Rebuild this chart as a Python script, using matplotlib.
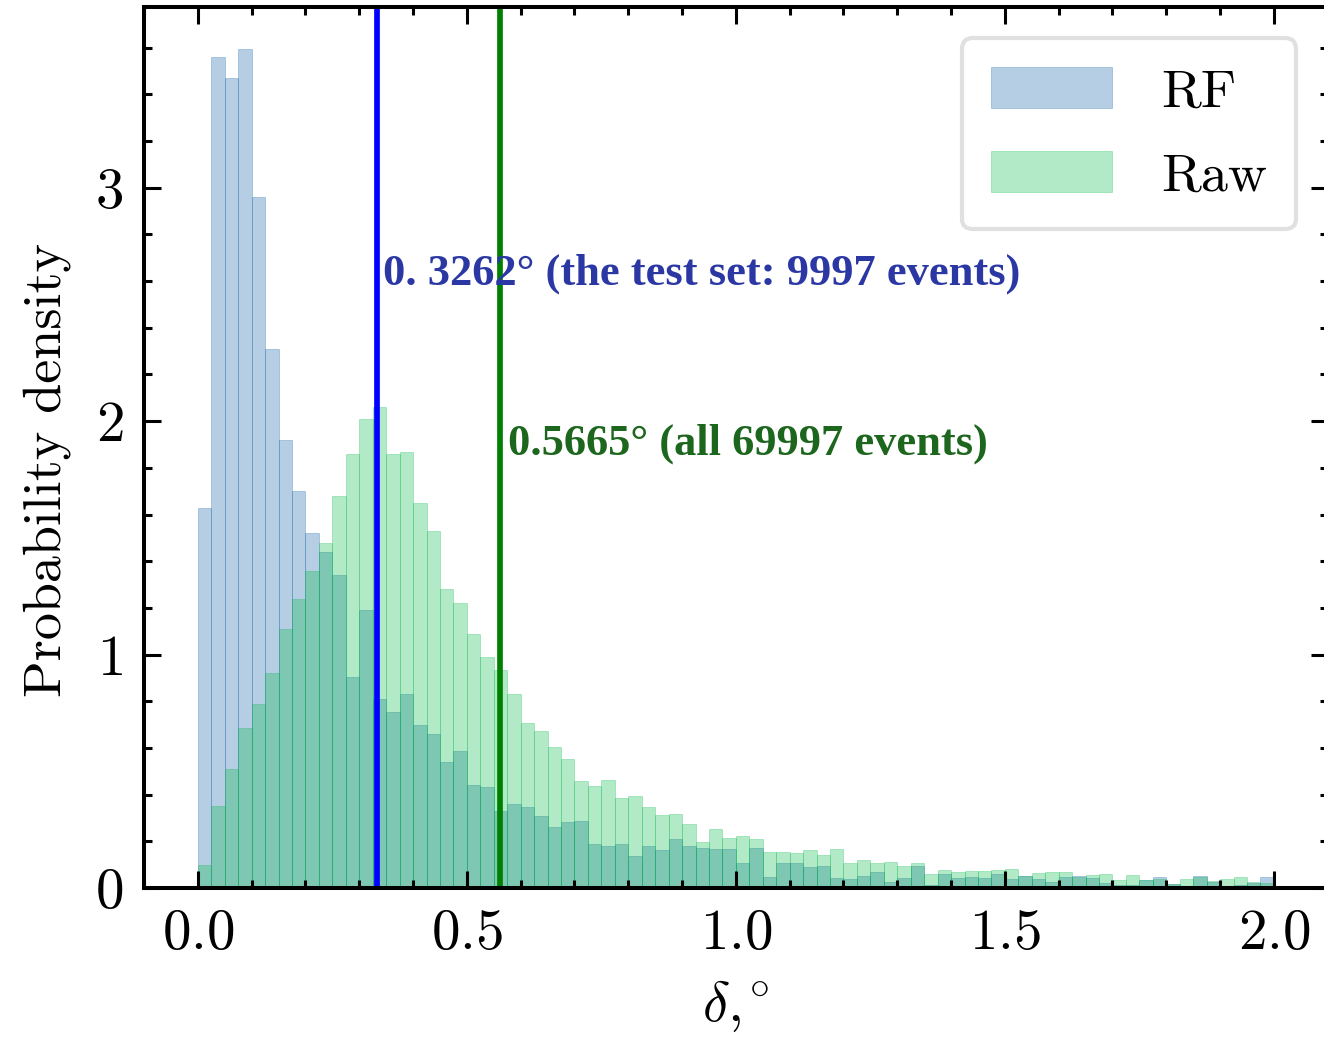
import numpy as np
import matplotlib
matplotlib.use("Agg")
import matplotlib.pyplot as plt
from matplotlib.ticker import MultipleLocator

# 80 bins of width 0.025 between 0 and 2 deg, density values
bin_edges = np.linspace(0.0, 2.0, 81)

rf_density = [
    1.63, 3.56, 3.47, 3.595, 2.96, 2.31, 1.92, 1.70, 1.52, 1.44,
    1.34, 0.905, 1.19, 0.81, 0.756, 0.83, 0.70, 0.66, 0.54, 0.585,
    0.44, 0.433, 0.33, 0.36, 0.348, 0.308, 0.261, 0.282, 0.287, 0.188,
    0.179, 0.19, 0.139, 0.178, 0.161, 0.212, 0.182, 0.173, 0.169, 0.165,
    0.105, 0.173, 0.049, 0.105, 0.109, 0.092, 0.096, 0.044, 0.040, 0.053,
    0.070, 0.027, 0.044, 0.096, 0.014, 0.062, 0.042, 0.046, 0.042, 0.060,
    0.039, 0.052, 0.039, 0.026, 0.046, 0.050, 0.043, 0.022, 0.011, 0.011,
    0.033, 0.046, 0.017, 0.003, 0.050, 0.027, 0.003, 0.013, 0.021, 0.046,
]

raw_density = [
    0.098, 0.35, 0.51, 0.686, 0.79, 0.92, 1.11, 1.24, 1.36, 1.476,
    1.68, 1.86, 2.01, 2.06, 1.86, 1.87, 1.65, 1.53, 1.28, 1.22,
    1.09, 0.99, 0.936, 0.83, 0.708, 0.674, 0.605, 0.553, 0.459, 0.437,
    0.463, 0.386, 0.393, 0.346, 0.311, 0.317, 0.272, 0.199, 0.251, 0.216,
    0.221, 0.208, 0.156, 0.156, 0.148, 0.161, 0.143, 0.165, 0.105, 0.118,
    0.109, 0.113, 0.096, 0.105, 0.062, 0.079, 0.067, 0.072, 0.072, 0.076,
    0.080, 0.053, 0.063, 0.067, 0.067, 0.049, 0.054, 0.059, 0.033, 0.054,
    0.034, 0.037, 0.018, 0.037, 0.049, 0.030, 0.037, 0.046, 0.024, 0.021,
]

rf_line = 0.333
raw_line = 0.562
rf_label = "0. 3262° (the test set: 9997 events)"
raw_label = "0.5665° (all 69997 events)"

plt.rcParams["font.family"] = "cmr10"
plt.rcParams["mathtext.fontset"] = "cm"
plt.rcParams["axes.formatter.use_mathtext"] = True

fig = plt.figure(figsize=(13.24, 10.37), dpi=100)
ax = fig.add_axes([0.1088, 0.1437, 0.894, 0.8496])

centers = 0.5 * (bin_edges[:-1] + bin_edges[1:])
ax.hist(centers, bins=bin_edges, weights=rf_density, color="#0C5DA5", alpha=0.3,
        edgecolor="#0C5DA5", linewidth=0.6, label="RF")
ax.hist(centers, bins=bin_edges, weights=raw_density, color="#00B945", alpha=0.3,
        edgecolor="#00B945", linewidth=0.6, label="Raw")

ax.axvline(rf_line, color="blue", lw=4.1)
ax.axvline(raw_line, color="green", lw=4.1)

ax.text(0.345, 2.586, rf_label, color="#2b38a3", fontsize=32, fontweight="bold",
        family="Liberation Serif", va="baseline")
ax.text(0.576, 1.859, raw_label, color="#1d661d", fontsize=32, fontweight="bold",
        family="Liberation Serif", va="baseline")

ax.xaxis.set_major_locator(MultipleLocator(0.5))
ax.xaxis.set_minor_locator(MultipleLocator(0.1))
ax.yaxis.set_major_locator(MultipleLocator(1))
ax.yaxis.set_minor_locator(MultipleLocator(0.2))
ax.tick_params(which="both", direction="in", top=True, right=True, labelsize=41, pad=15)
ax.tick_params(which="major", length=12, width=2.2)
ax.tick_params(which="minor", length=6, width=2.2)
for sp in ax.spines.values():
    sp.set_linewidth(2.9)

ax.set_xlabel(r"$\delta{,}^\circ$", fontsize=41, labelpad=13)
ax.set_ylabel("Probability density", fontsize=39, labelpad=17, y=0.474)

leg = ax.legend(loc="upper right", fontsize=39, edgecolor="0.85", framealpha=0.8,
                handlelength=2.23, handleheight=0.78, handletextpad=0.92,
                borderpad=0.53, labelspacing=0.65, borderaxespad=0.58)
leg.get_frame().set_linewidth(3)

fig.savefig("out.png", dpi=100)
